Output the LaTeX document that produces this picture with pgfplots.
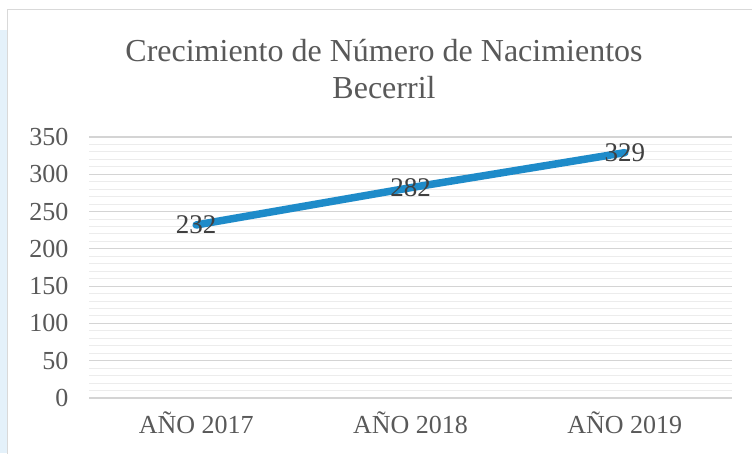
\documentclass[border=0pt]{standalone}
\usepackage{pgfplots}
\pgfplotsset{compat=1.18}
\usepackage{fontspec}
\setmainfont{Liberation Serif}
\definecolor{txt}{RGB}{89,89,89}
\definecolor{lbl}{RGB}{64,64,64}
\definecolor{serie}{RGB}{30,139,201}
\definecolor{majg}{RGB}{212,212,212}
\definecolor{ming}{RGB}{236,236,236}
\definecolor{frame}{RGB}{217,217,217}
\definecolor{bgblue}{RGB}{228,241,250}
\begin{document}
\begin{tikzpicture}[x=1pt,y=1pt]
\useasboundingbox (0,0) rectangle (752,453);
\fill[bgblue] (0,0) rectangle (7,423);
\fill[white] (7,0) rectangle (752,443);
\draw[frame,line width=1pt] (7,-5) -- (7,443) -- (760,443);
\node[text=txt,font=\fontsize{32}{37}\selectfont,anchor=base] at (384,391) {Crecimiento de Número de Nacimientos};
\node[text=txt,font=\fontsize{32}{37}\selectfont,anchor=base] at (384,354) {Becerril};
\begin{axis}[
  at={(89pt,55pt)}, anchor=south west,
  scale only axis, width=643pt, height=261pt,
  xmin=-0.5, xmax=2.5, ymin=0, ymax=350,
  xtick={0,1,2}, xticklabels={AÑO 2017, AÑO 2018, AÑO 2019},
  ytick={0,50,...,350},
  minor ytick={10,20,...,340},
  ymajorgrids, yminorgrids,
  major grid style={majg, line width=1.2pt},
  minor grid style={ming, line width=1pt},
  axis line style={draw=none},
  major tick length=0pt, minor tick length=0pt,
  tick style={draw=none},
  /pgf/number format/assume math mode=true,
  ticklabel style={text=txt, font=\fontsize{26}{30}\selectfont},
  yticklabel style={xshift=-17pt},
  xticklabel style={yshift=-10pt},
  clip=false,
  nodes near coords,
  every node near coord/.append style={anchor=center, text=lbl, font=\fontsize{27}{30}\selectfont},
  point meta=explicit symbolic,
]
\addplot[serie, line width=7.5pt, line cap=round, line join=round, mark=none]
  coordinates {(0,232) [232] (1,282) [282] (2,329) [329]};
\end{axis}
\end{tikzpicture}
\end{document}
